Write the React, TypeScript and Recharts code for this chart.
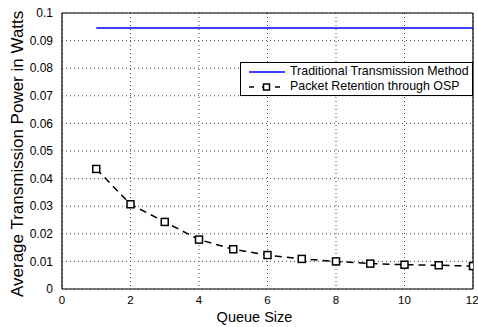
import { LineChart, Line, XAxis, YAxis, CartesianGrid, ReferenceLine } from 'recharts';

// 队列大小 (x 轴)
const queueSizes = [1, 2, 3, 4, 5, 6, 7, 8, 9, 10, 11, 12];
// 传统方式的平均发射功率
const traditionalPower = [0.0946, 0.0946, 0.0946, 0.0946, 0.0946, 0.0946, 0.0946, 0.0946, 0.0946, 0.0946, 0.0946, 0.0946];
// OSP 分组保留方式
const ospPower = [0.0435, 0.0307, 0.0243, 0.0179, 0.0144, 0.0123, 0.0109, 0.0100, 0.0092, 0.0088, 0.0086, 0.0083];

const xTicks = [0, 2, 4, 6, 8, 10, 12];
const yTicks = [0, 0.01, 0.02, 0.03, 0.04, 0.05, 0.06, 0.07, 0.08, 0.09, 0.1];

const data = queueSizes.map((q, i) => ({ q, trad: traditionalPower[i], osp: ospPower[i] }));

const FONT = '"Liberation Sans", Arial, Helvetica, sans-serif';

function SquareDot(props: any) {
  const { cx, cy } = props;
  if (cx == null || cy == null) return null;
  return <rect x={cx - 3.5} y={cy - 3.5} width={7} height={7} fill="#fff" stroke="#000" strokeWidth={1.5} />;
}

function LegendBox() {
  return (
    <div
      style={{
        position: 'absolute',
        left: 240,
        top: 62,
        border: '1px solid #000',
        background: '#fff',
        width: 233,
        height: 34,
        fontFamily: FONT,
        fontSize: 12.4,
        color: '#000',
        boxSizing: 'border-box',
        padding: '1px 0 0 7px',
        lineHeight: '15px',
        whiteSpace: 'nowrap',
        overflow: 'hidden',
      }}
    >
      <div style={{ display: 'flex', alignItems: 'center' }}>
        <svg width={38} height={10}>
          <line x1={1} y1={5} x2={37} y2={5} stroke="#0000ff" strokeWidth={1.5} />
        </svg>
        <span style={{ marginLeft: 4 }}>Traditional Transmission Method</span>
      </div>
      <div style={{ display: 'flex', alignItems: 'center' }}>
        <svg width={38} height={10}>
          <line x1={1} y1={5} x2={37} y2={5} stroke="#000" strokeWidth={1.5} strokeDasharray="5 8" />
          <rect x={15.5} y={2} width={6} height={6} fill="#fff" stroke="#000" strokeWidth={1.5} />
        </svg>
        <span style={{ marginLeft: 4 }}>Packet Retention through OSP</span>
      </div>
    </div>
  );
}

export default function App() {
  return (
    <div style={{ width: 478, height: 327, background: '#fff', position: 'relative', overflow: 'hidden' }}>
      <style>{`body{margin:0}`}</style>
      <LineChart width={478} height={327} data={data} margin={{ top: 13, right: 5, left: 0, bottom: 19 }}>
        <CartesianGrid stroke="#444" strokeDasharray="1 3" />
        <XAxis
          dataKey="q"
          type="number"
          domain={[0, 12]}
          ticks={xTicks}
          allowDataOverflow
          height={19}
          tick={{ fill: '#000', fontSize: 11.5, fontFamily: FONT }}
          tickLine={false}
          axisLine={{ stroke: '#000', strokeWidth: 1.2 }}
          tickMargin={1}
          label={{ value: 'Queue Size', position: 'insideBottom', offset: -14, dx: -13, fill: '#000', fontSize: 14.5, fontFamily: FONT }}
        />
        <YAxis
          type="number"
          domain={[0, 0.1]}
          ticks={yTicks}
          allowDataOverflow
          width={62}
          tick={{ fill: '#000', fontSize: 12, fontFamily: FONT }}
          tickLine={false}
          axisLine={{ stroke: '#000', strokeWidth: 1.2 }}
          tickMargin={3}
          label={{
            value: 'Average Transmission Power in Watts',
            angle: -90,
            position: 'insideLeft',
            offset: 0,
            dx: 17,
            dy: 146,
            fill: '#000',
            fontSize: 17,
            fontFamily: FONT,
          }}
        />
        <ReferenceLine y={0.1} stroke="#000" strokeWidth={1.2} />
        <ReferenceLine x={12} stroke="#000" strokeWidth={1.2} />
        <Line
          dataKey="trad"
          stroke="#0000ff"
          strokeWidth={1.5}
          dot={false}
          isAnimationActive={false}
        />
        <Line
          dataKey="osp"
          stroke="#000"
          strokeWidth={1.5}
          strokeDasharray="7 5"
          dot={<SquareDot />}
          isAnimationActive={false}
        />
      </LineChart>
      <LegendBox />
    </div>
  );
}
